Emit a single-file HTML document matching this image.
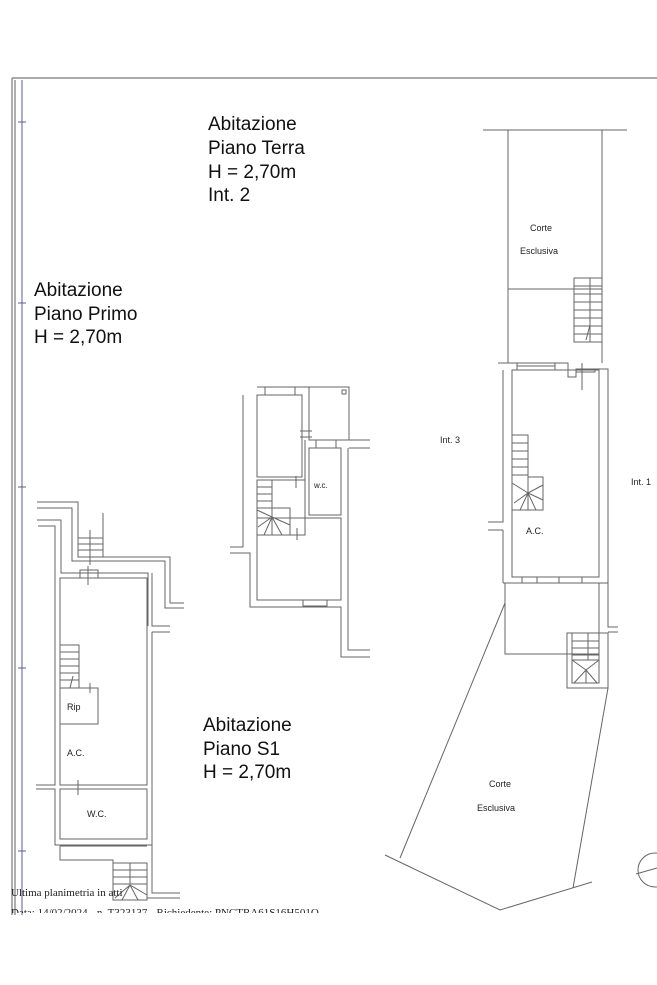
<!DOCTYPE html>
<html><head><meta charset="utf-8"><style>
html,body{margin:0;padding:0;background:#fff;}
svg{display:block;}
</style></head><body>
<svg width="657" height="985" viewBox="0 0 657 985" xmlns="http://www.w3.org/2000/svg" font-family="Liberation Sans, sans-serif">
<rect width="657" height="985" fill="#fff"/>
<g stroke="#777" stroke-width="1.2" fill="none">
<line x1="12" y1="78" x2="657" y2="78"/>
<line x1="12" y1="78" x2="12" y2="915"/>
<line x1="15" y1="80" x2="15" y2="915"/>
</g>
<g stroke="#5a5aa0" stroke-width="1" fill="none">
<line x1="22" y1="80" x2="22" y2="915"/>
<line x1="18" y1="122" x2="26" y2="122"/>
<line x1="18" y1="303" x2="26" y2="303"/>
<line x1="18" y1="487" x2="26" y2="487"/>
<line x1="18" y1="668" x2="26" y2="668"/>
<line x1="18" y1="851" x2="26" y2="851"/>
</g>

<g font-size="19" fill="#111">
<text x="208" y="130">Abitazione</text>
<text x="208" y="154">Piano Terra</text>
<text x="208" y="178">H = 2,70m</text>
<text x="208" y="201">Int. 2</text>
<text x="34" y="296">Abitazione</text>
<text x="34" y="320">Piano Primo</text>
<text x="34" y="343">H = 2,70m</text>
<text x="203" y="731">Abitazione</text>
<text x="203" y="755">Piano S1</text>
<text x="203" y="778">H = 2,70m</text>
</g>

<g stroke="#666" stroke-width="1" fill="none">
<line x1="483" y1="130" x2="627" y2="130"/>
<line x1="508" y1="130" x2="508" y2="363"/>
<line x1="602" y1="130" x2="602" y2="363"/>
<line x1="508" y1="289" x2="602" y2="289"/>
<rect x="574" y="278" width="28" height="64"/>
<line x1="590" y1="278" x2="590" y2="342"/>
<path d="M574 286H602M574 294H602M574 302H602M574 310H602M574 318H602M574 326H602M574 334H602"/>
<line x1="586" y1="340" x2="590" y2="325"/>
<path d="M498 363H568V377H576V369H608V627H618"/>
<path d="M503 370V522H488M503 530H488M503 530V583"/>
<rect x="512" y="370" width="87" height="207"/>
<path d="M555 363V370M517 363V370M517 366H555"/>
<path d="M576 369H595V372H576"/>
<line x1="582" y1="363" x2="582" y2="390"/>
<rect x="512" y="435" width="16" height="75"/>
<path d="M512 443H528M512 451H528M512 459H528M512 467H528M512 475H528"/>
<path d="M528 477H543V510H528"/>
<path d="M528 493L512 483M528 493L514 503M528 493L520 510M528 493L528 510M528 493L536 510M528 493L543 500M528 493L543 485"/>
<rect x="522" y="577" width="15" height="6"/>
<rect x="559" y="577" width="23" height="6"/>
<path d="M503 583H608V627"/>
<rect x="505" y="583" width="94" height="71"/>
<path d="M608 632H618"/>
<rect x="567" y="633" width="41" height="55"/>
<rect x="572" y="633" width="27" height="50"/>
<path d="M588 633V660M572 641H599M572 648H599M572 655H599"/>
<path d="M586 670L572 660M586 670L574 683M586 670L586 683M586 670L597 683M586 670L599 660M572 660H599"/>
<line x1="505" y1="603" x2="400" y2="858"/>
<line x1="608" y1="688" x2="573" y2="888"/>
<path d="M385 855L500 910L592 882"/>
<circle cx="655" cy="870" r="17"/>
<line x1="636" y1="874" x2="657" y2="868"/>

<path d="M257 387H349V440H370M349 448H370"/>
<path d="M243 395V547H230M230 553H250V607H341V657H370M348 448V650H370"/>
<rect x="257" y="395" width="45" height="82"/>
<rect x="265" y="387" width="30" height="8"/>
<rect x="309" y="387" width="40" height="53"/>
<rect x="342" y="390" width="4" height="4"/>
<rect x="309" y="448" width="32" height="67"/>
<rect x="316" y="440" width="20" height="8"/>
<path d="M302 420V477M305 440V520M300 431H312M300 437H312M296 476V488"/>
<rect x="257" y="480" width="48" height="55"/>
<rect x="257" y="480" width="15" height="55"/>
<path d="M257 487H272M257 494H272M257 501H272M257 508H290V535"/>
<path d="M272 517L257 510M272 517L258 527M272 517L264 535M272 517L272 535M272 517L282 535M272 517L290 525"/>
<line x1="297" y1="528" x2="297" y2="540"/>
<rect x="257" y="518" width="84" height="82"/>
<rect x="303" y="600" width="24" height="6"/>

<path d="M37 502H78V557H170V603H184"/>
<path d="M37 508H72V561H165V608H184"/>
<path d="M37 520H61V573H148V626"/>
<path d="M38 526H55V785H36M36 789H55V845H152V893H180M147 898H180"/>
<rect x="78" y="538" width="25" height="19"/>
<path d="M78 544H103M78 550H103M103 513V557M90 530V565"/>
<rect x="60" y="578" width="87" height="207"/>
<path d="M152 573V626H170M152 632H170M152 632V893"/>
<rect x="80" y="570" width="18" height="8"/>
<line x1="88" y1="566" x2="88" y2="585"/>
<rect x="60" y="645" width="19" height="43"/>
<path d="M60 652H79M60 659H79M60 666H79M60 673H79M60 680H79M73 676L70 688"/>
<rect x="60" y="688" width="38" height="36"/>
<line x1="90" y1="683" x2="90" y2="693"/>
<rect x="60" y="789" width="87" height="50"/>
<line x1="78" y1="780" x2="78" y2="795"/>
<path d="M60 846H147M60 846V860H113V900"/>
<rect x="113" y="863" width="34" height="37"/>
<path d="M113 870H147M113 877H147M113 884H147M130 863V884M130 885L115 898M130 885L122 900M130 885L138 900M130 885L147 895"/>
</g>

<g font-size="9" fill="#222">
<text x="530" y="231">Corte</text>
<text x="520" y="254">Esclusiva</text>
<text x="440" y="443">Int. 3</text>
<text x="631" y="485">Int. 1</text>
<text x="526" y="534">A.C.</text>
<text x="314" y="488" font-size="8">w.c.</text>
<text x="67" y="710">Rip</text>
<text x="67" y="756">A.C.</text>
<text x="87" y="817">W.C.</text>
<text x="489" y="787">Corte</text>
<text x="477" y="811">Esclusiva</text>
</g>
<text x="11" y="896" font-family="Liberation Serif, serif" font-size="11" fill="#222">Ultima planimetria in atti</text>
<svg x="0" y="905" width="657" height="8" overflow="hidden"><text x="11" y="11" font-family="Liberation Serif, serif" font-size="11" fill="#222">Data: 14/02/2024 - n. T323137 - Richiedente: PNCTRA61S16H501Q</text></svg>
</svg>
</body></html>
